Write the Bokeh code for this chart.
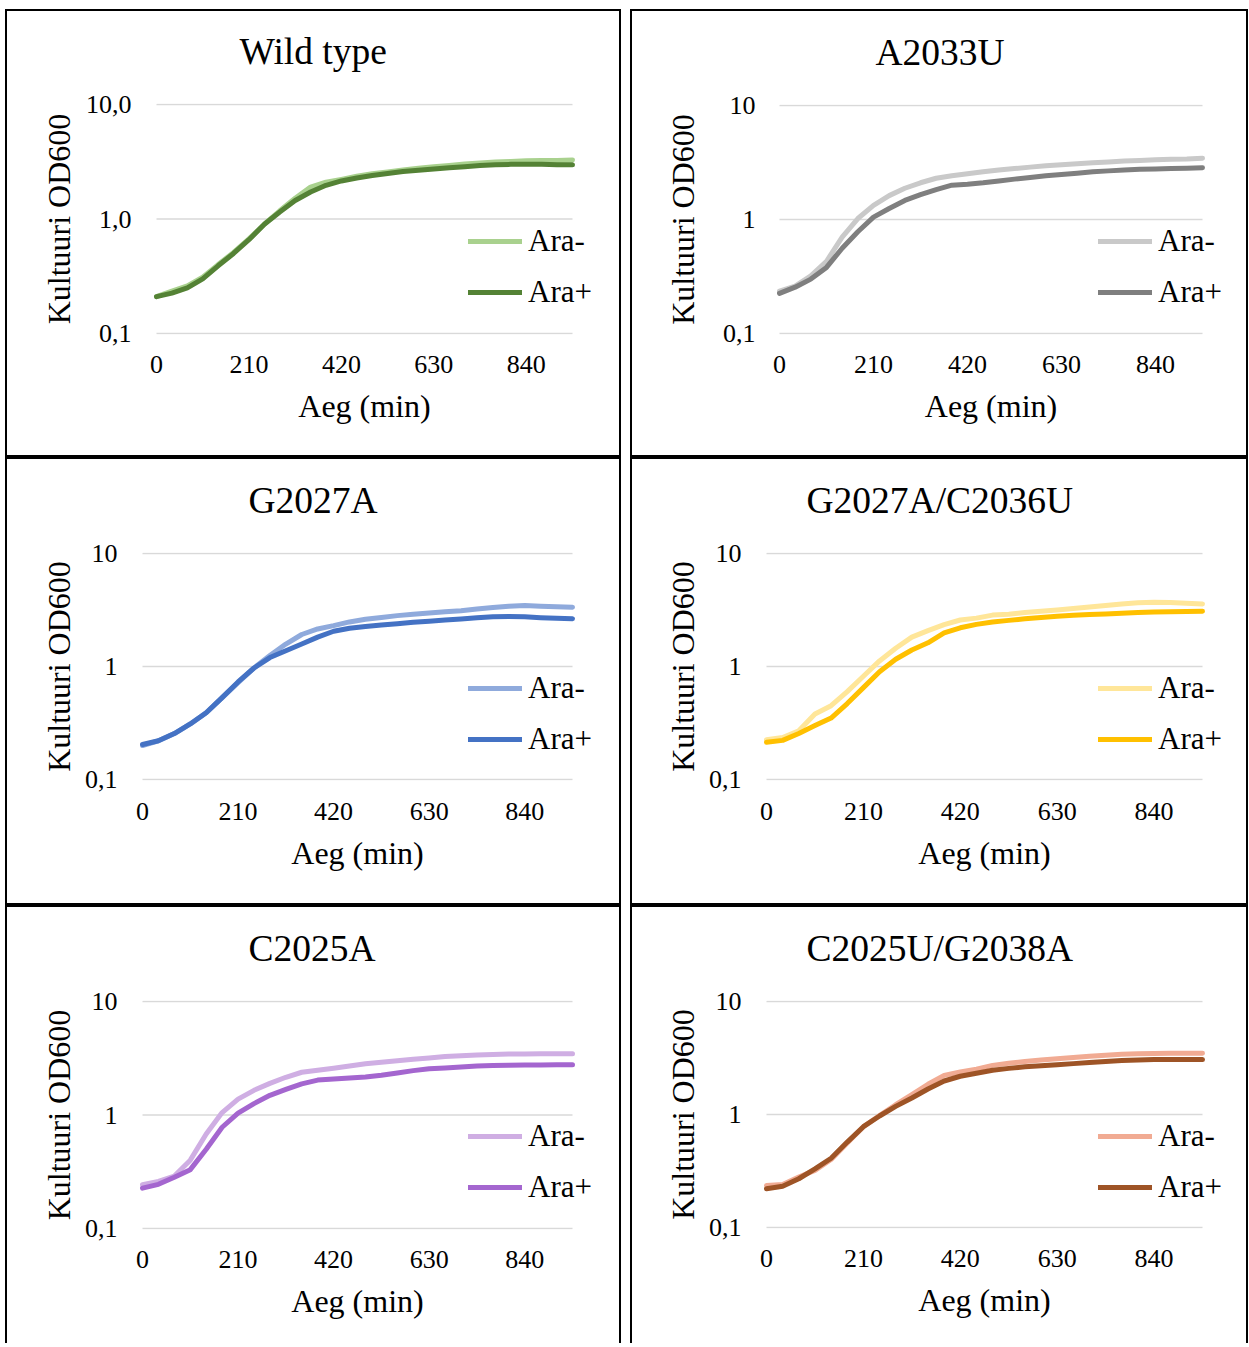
from bokeh.plotting import figure
from bokeh.models import Range1d, FixedTicker, Legend, LegendItem, Spacer, ColumnDataSource, LinearAxis
from bokeh.layouts import row, column
from bokeh.embed import file_html
from bokeh.resources import INLINE

FONT = "Liberation Serif"

# ---------------- data ----------------
time_min = [0, 35, 70, 105, 140, 175, 210, 245, 280, 315, 350, 385, 420, 455,
            490, 525, 560, 595, 630, 665, 700, 735, 770, 805, 840, 875, 910, 945]
x_ticks = [0, 210, 420, 630, 840]
y_ticks = [0.1, 1, 10]
y_tick_labels_wt = ["0,1", "1,0", "10,0"]
y_tick_labels = ["0,1", "1", "10"]
series_names = ["Ara-", "Ara+"]
x_axis_title = "Aeg (min)"
y_axis_title = "Kultuuri OD600"
panel_titles = ["Wild type", "A2033U", "G2027A", "G2027A/C2036U", "C2025A", "C2025U/G2038A"]

wt_minus = [0.21, 0.235, 0.26, 0.31, 0.40, 0.51, 0.67, 0.90, 1.18, 1.52, 1.90, 2.10, 2.22, 2.36,
            2.48, 2.58, 2.68, 2.77, 2.86, 2.94, 3.02, 3.08, 3.14, 3.18, 3.22, 3.24, 3.25, 3.28]
wt_plus = [0.21, 0.225, 0.25, 0.30, 0.39, 0.50, 0.66, 0.90, 1.15, 1.45, 1.72, 1.97, 2.15, 2.28,
           2.40, 2.50, 2.60, 2.67, 2.73, 2.80, 2.86, 2.93, 2.98, 3.00, 3.00, 3.00, 2.98, 2.97]

a2033u_minus = [0.235, 0.26, 0.32, 0.43, 0.70, 1.02, 1.33, 1.62, 1.88, 2.10, 2.30, 2.42, 2.52, 2.62,
                2.72, 2.80, 2.88, 2.96, 3.02, 3.08, 3.14, 3.20, 3.26, 3.30, 3.34, 3.38, 3.40, 3.45]
a2033u_plus = [0.225, 0.255, 0.30, 0.38, 0.56, 0.78, 1.05, 1.25, 1.47, 1.65, 1.83, 2.00, 2.04, 2.10,
               2.18, 2.26, 2.34, 2.42, 2.48, 2.55, 2.62, 2.67, 2.72, 2.76, 2.78, 2.80, 2.82, 2.84]

g2027a_minus = [0.20, 0.22, 0.255, 0.31, 0.39, 0.53, 0.72, 0.97, 1.25, 1.58, 1.92, 2.15, 2.30, 2.48,
                2.62, 2.72, 2.82, 2.90, 2.97, 3.05, 3.12, 3.22, 3.32, 3.42, 3.46, 3.42, 3.38, 3.35]
g2027a_plus = [0.204, 0.22, 0.255, 0.31, 0.39, 0.53, 0.73, 0.97, 1.20, 1.38, 1.58, 1.82, 2.05, 2.18,
               2.26, 2.33, 2.39, 2.46, 2.52, 2.58, 2.63, 2.70, 2.76, 2.77, 2.75, 2.70, 2.67, 2.65]

g2027a_c2036u_minus = [0.225, 0.235, 0.27, 0.38, 0.45, 0.60, 0.82, 1.12, 1.45, 1.82, 2.08, 2.35, 2.58, 2.68,
                       2.85, 2.90, 3.00, 3.08, 3.16, 3.26, 3.36, 3.46, 3.58, 3.66, 3.70, 3.68, 3.62, 3.58]
g2027a_c2036u_plus = [0.214, 0.222, 0.255, 0.30, 0.35, 0.47, 0.65, 0.90, 1.16, 1.40, 1.62, 1.98, 2.20, 2.36,
                      2.48, 2.56, 2.64, 2.72, 2.78, 2.84, 2.88, 2.92, 2.96, 3.00, 3.03, 3.05, 3.07, 3.08]

c2025a_minus = [0.243, 0.26, 0.29, 0.40, 0.68, 1.05, 1.38, 1.65, 1.90, 2.15, 2.38, 2.48, 2.58, 2.70,
                2.83, 2.92, 3.00, 3.10, 3.18, 3.28, 3.32, 3.38, 3.42, 3.44, 3.45, 3.46, 3.46, 3.46]
c2025a_plus = [0.227, 0.245, 0.283, 0.33, 0.50, 0.78, 1.04, 1.26, 1.49, 1.68, 1.88, 2.03, 2.08, 2.12,
               2.16, 2.24, 2.34, 2.46, 2.55, 2.60, 2.65, 2.70, 2.73, 2.74, 2.76, 2.76, 2.77, 2.77]

c2025u_g2038a_minus = [0.235, 0.24, 0.28, 0.32, 0.40, 0.56, 0.78, 0.98, 1.22, 1.50, 1.85, 2.22, 2.38, 2.52,
                       2.72, 2.84, 2.95, 3.04, 3.12, 3.20, 3.28, 3.35, 3.42, 3.45, 3.47, 3.48, 3.48, 3.49]
c2025u_g2038a_plus = [0.22, 0.232, 0.27, 0.33, 0.41, 0.57, 0.78, 0.97, 1.18, 1.40, 1.68, 1.98, 2.18, 2.32,
                      2.46, 2.56, 2.64, 2.70, 2.76, 2.82, 2.88, 2.94, 3.00, 3.04, 3.06, 3.07, 3.07, 3.06]

colors_minus = ["#A9D18E", "#C9C9C9", "#8FAADC", "#FFE699", "#CFAEE3", "#F1AB93"]
colors_plus = ["#548235", "#7F7F7F", "#4472C4", "#FFC000", "#A466CF", "#9E5426"]

series_minus = [wt_minus, a2033u_minus, g2027a_minus, g2027a_c2036u_minus, c2025a_minus, c2025u_g2038a_minus]
series_plus = [wt_plus, a2033u_plus, g2027a_plus, g2027a_c2036u_plus, c2025a_plus, c2025u_g2038a_plus]

# ---------------- layout (canvas sizes; pixel box of the plotted span; text offsets) ----------------
# sl/sr/st/sb: canvas pixels where x=0..945 and y=0.1..10 sit
layouts = [
    dict(w=612, h=444, sl=149, sr=565, st=93, sb=322, toff=83, ystand=6, tgap=25, legx=312, legy=24, xstand=15, last=False),
    dict(w=614, h=444, sl=147, sr=570, st=94, sb=322, toff=96, ystand=19, tgap=24, legx=319, legy=24, xstand=15, last=False),
    dict(w=612, h=444, sl=135, sr=565, st=94, sb=320, toff=106, ystand=5, tgap=25, legx=326, legy=23, xstand=16, last=False),
    dict(w=614, h=444, sl=134, sr=570, st=94, sb=320, toff=40, ystand=5, tgap=25, legx=332, legy=23, xstand=16, last=False),
    dict(w=612, h=436, sl=135, sr=565, st=94, sb=321, toff=106, ystand=5, tgap=25, legx=326, legy=24, xstand=15, last=True),
    dict(w=614, h=436, sl=134, sr=570, st=94, sb=320, toff=40, ystand=5, tgap=25, legx=332, legy=23, xstand=15, last=True),
]
EXT = 22        # frame extends this far beyond the plotted span on left and right (room for legend text)
PADY = 1        # frame extends this far above/below so edge gridlines are not clipped
TEXT_PAD = 6    # extra gap Bokeh adds beside tick labels
TITLE_GAP = 17  # empty band between the title and the plot area
TITLE_STANDOFF = 30


def make_panel(i):
    L = layouts[i]
    span_w = L["sr"] - L["sl"]
    t_end = time_min[-1]
    dx = t_end * EXT / span_w
    decade = (L["sb"] - L["st"]) / 2.0
    py = PADY / decade
    top_border = L["st"] - PADY
    p = figure(width=L["w"], height=L["h"],
               x_range=Range1d(-dx, t_end + dx),
               y_range=Range1d(10 ** (-1 - py), 10 ** (1 + py)),
               y_axis_type="log", output_backend="svg", toolbar_location=None,
               min_border_left=L["sl"] - EXT, min_border_right=L["w"] - L["sr"] - EXT,
               min_border_top=top_border, min_border_bottom=L["h"] - L["sb"] - PADY,
               background_fill_color="white", border_fill_color="white",
               outline_line_color=None, frame_align=False,
               margin=(2, 2, 0, 2) if L["last"] else (2, 2, 2, 2),
               styles={"background-color": "white"})
    p.title.text = panel_titles[i]
    p.title.align = "left"
    p.title.offset = L["toff"] + EXT
    p.title.text_font = FONT
    p.title.text_font_size = "37.5px"
    p.title.text_font_style = "normal"
    p.title.text_color = "black"
    p.title.standoff = TITLE_STANDOFF

    # an empty (white-on-white) band between title and plot area
    gap = LinearAxis(ticker=FixedTicker(ticks=[time_min[0]]), axis_line_color=None,
                     major_tick_line_color="white", minor_tick_line_color=None,
                     major_tick_in=0, major_tick_out=TITLE_GAP, minor_tick_in=0, minor_tick_out=0,
                     major_label_standoff=0, major_label_text_color=None)
    p.add_layout(gap, "above")

    # horizontal gridlines at the y ticks, spanning the measured time range
    grid_src = ColumnDataSource(dict(x0=[time_min[0]] * len(y_ticks), x1=[t_end] * len(y_ticks),
                                     y=y_ticks))
    p.segment(x0="x0", x1="x1", y0="y", y1="y", source=grid_src,
              line_color="#D9D9D9", line_width=1.5)

    src = ColumnDataSource(dict(t=time_min, minus=series_minus[i], plus=series_plus[i]))
    r1 = p.line("t", "minus", source=src, line_color=colors_minus[i], line_width=5,
                line_cap="round", line_join="round")
    r2 = p.line("t", "plus", source=src, line_color=colors_plus[i], line_width=5,
                line_cap="round", line_join="round")

    # x axis
    xa = p.below[0]
    xa.ticker = FixedTicker(ticks=x_ticks)
    xa.axis_label = x_axis_title
    xa.axis_line_color = None
    xa.major_tick_line_color = None
    xa.minor_tick_line_color = None
    xa.major_label_text_font = FONT
    xa.major_label_text_font_size = "26px"
    xa.major_label_text_color = "black"
    xa.major_label_standoff = L["xstand"]
    xa.axis_label_text_font = FONT
    xa.axis_label_text_font_size = "32px"
    xa.axis_label_text_font_style = "normal"
    xa.axis_label_text_color = "black"
    xa.axis_label_standoff = 12

    # y axis
    ya = p.yaxis[0]
    ya.ticker = FixedTicker(ticks=y_ticks)
    labels = y_tick_labels_wt if i == 0 else y_tick_labels
    ya.major_label_overrides = {t: lab for t, lab in zip(y_ticks, labels)}
    ya.axis_label = y_axis_title
    ya.axis_line_color = None
    ya.major_tick_line_color = None
    ya.minor_tick_line_color = None
    ya.major_label_text_font = FONT
    ya.major_label_text_font_size = "26px"
    ya.major_label_text_color = "black"
    ya.major_label_standoff = L["tgap"] - TEXT_PAD - EXT
    ya.axis_label_text_font = FONT
    ya.axis_label_text_font_size = "32px"
    ya.axis_label_text_font_style = "normal"
    ya.axis_label_text_color = "black"
    ya.axis_label_standoff = L["ystand"]

    p.xgrid.visible = False
    p.ygrid.visible = False

    legend = Legend(items=[LegendItem(label=series_names[0], renderers=[r1]),
                           LegendItem(label=series_names[1], renderers=[r2])],
                    location=(L["legx"] + EXT, L["legy"]))
    legend.label_text_font = FONT
    legend.label_text_font_size = "31px"
    legend.label_text_color = "black"
    legend.label_standoff = 6
    legend.glyph_width = 54
    legend.glyph_height = 34
    legend.label_height = 34
    legend.spacing = 15
    legend.padding = 0
    legend.margin = 0
    legend.border_line_color = None
    legend.background_fill_alpha = 0
    p.add_layout(legend)
    return p


panels = [make_panel(i) for i in range(6)]
# black column backgrounds show through the 2px figure margins as cell borders
col_left = column(panels[0], panels[2], panels[4], styles={"background-color": "black"})
col_right = column(panels[1], panels[3], panels[5], styles={"background-color": "black"})
layout = column(
    Spacer(width=10, height=9),
    row(Spacer(width=5, height=10), col_left, Spacer(width=9, height=10), col_right),
)

with open("out.html", "w") as f:
    f.write(file_html(layout, INLINE))
